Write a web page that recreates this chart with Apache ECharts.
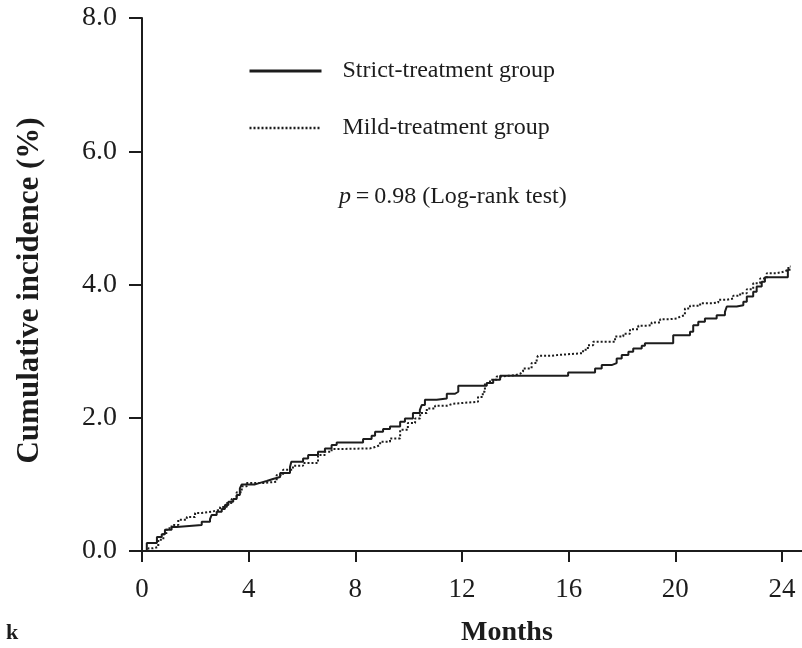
<!DOCTYPE html>
<html>
<head>
<meta charset="utf-8">
<script src="https://cdn.jsdelivr.net/npm/echarts@6/dist/echarts.min.js"></script>
<style>
html,body{margin:0;padding:0;background:#fff;}
#chart{width:802px;height:648px;}
</style>
</head>
<body>
<div id="chart"></div>
<script>
// ---- data ----
const xTicks = [0, 4, 8, 12, 16, 20, 24];
const yTicks = [0, 2, 4, 6, 8];
const seriesNames = ['Strict-treatment group', 'Mild-treatment group'];

const strictT = [0, 0.18, 0.56, 0.74, 0.86, 1.11, 1.30, 2.24, 2.55, 2.61, 2.80, 2.99, 3.11, 3.24, 3.42, 3.55, 3.67, 3.74,
  4.24, 4.49, 4.68, 4.91, 5.18, 5.55, 5.60, 6.04, 6.23, 6.60, 6.86, 7.11, 7.30, 8.29, 8.61, 8.74, 9.04, 9.30, 9.68, 9.86,
  10.16, 10.42, 10.49, 10.61, 11.05, 11.43, 11.74, 11.86, 12.93, 13.17, 13.43, 15.98, 16.99, 17.24, 17.61, 17.80, 17.99,
  18.24, 18.42, 18.74, 18.86, 19.92, 20.55, 20.67, 20.86, 21.11, 21.55, 21.86, 21.93, 22.30, 22.55, 22.68, 22.92, 23.05,
  23.24, 23.36, 24.22, 24.32];
const strictV = [0, 0.12, 0.21, 0.25, 0.32, 0.36, 0.39, 0.44, 0.48, 0.54, 0.59, 0.63, 0.69, 0.74, 0.78, 0.84, 0.94, 1.00,
  1.03, 1.05, 1.08, 1.11, 1.17, 1.26, 1.34, 1.39, 1.44, 1.49, 1.54, 1.59, 1.63, 1.68, 1.73, 1.79, 1.83, 1.87, 1.94, 1.99,
  2.07, 2.12, 2.19, 2.27, 2.29, 2.36, 2.39, 2.48, 2.52, 2.57, 2.63, 2.68, 2.74, 2.79, 2.82, 2.89, 2.94,
  2.99, 3.04, 3.08, 3.12, 3.24, 3.29, 3.39, 3.44, 3.49, 3.54, 3.59, 3.67, 3.69, 3.74, 3.82, 3.89, 3.97,
  4.04, 4.11, 4.22, 4.22];

const mildT = [0, 0.24, 0.42, 0.61, 0.80, 0.93, 1.11, 1.36, 1.68, 1.99, 2.24, 2.61, 2.93, 3.18, 3.36, 3.55, 3.74, 3.93,
  4.55, 5.05, 5.29, 5.66, 6.04, 6.60, 6.86, 7.11, 7.30, 8.55, 8.74, 8.93, 9.30, 9.68, 9.97, 10.24, 10.43, 10.68, 10.99,
  11.43, 11.66, 12.60, 12.78, 12.86, 13.05, 13.30, 13.49, 13.99, 14.18, 14.29, 14.61, 14.80, 14.85, 15.36, 15.55, 16.54,
  16.72, 16.92, 17.74, 18.05, 18.30, 18.61, 18.93, 19.11, 19.43, 19.80, 20.05, 20.18, 20.36, 20.55, 20.93, 21.42, 21.61,
  21.93, 22.17, 22.43, 22.68, 22.92, 23.18, 23.43, 23.80, 24.05, 24.24, 24.32];
const mildV = [0, 0.04, 0.06, 0.17, 0.27, 0.34, 0.39, 0.47, 0.51, 0.57, 0.59, 0.62, 0.66, 0.72, 0.78, 0.88, 0.97, 1.02,
  1.04, 1.14, 1.22, 1.28, 1.32, 1.44, 1.49, 1.53, 1.54, 1.56, 1.59, 1.64, 1.69, 1.82, 1.92, 1.99, 2.07, 2.14, 2.18,
  2.21, 2.24, 2.31, 2.39, 2.52, 2.57, 2.62, 2.64, 2.66, 2.69, 2.74, 2.82, 2.89, 2.93, 2.94, 2.97, 3.02,
  3.09, 3.14, 3.22, 3.26, 3.33, 3.38, 3.39, 3.43, 3.48, 3.49, 3.52, 3.54, 3.64, 3.68, 3.72, 3.73, 3.77,
  3.79, 3.83, 3.87, 3.93, 4.02, 4.09, 4.17, 4.19, 4.22, 4.27, 4.27];

const zip = (t, v) => t.map((x, i) => [x, v[i]]);

const FONT = '"Liberation Serif", "Times New Roman", serif';
const INK = '#1c1c1c';

const chart = echarts.init(document.getElementById('chart'), null, {renderer: 'canvas'});
chart.setOption({
  backgroundColor: '#ffffff',
  animation: false,
  grid: {left: 142, right: 0, top: 18, bottom: 97, containLabel: false},
  legend: {
    orient: 'vertical',
    left: 248,
    top: 59,
    padding: 0,
    itemWidth: 72,
    itemHeight: 28,
    itemGap: 33,
    selectedMode: false,
    itemStyle: {opacity: 0},
    textStyle: {fontFamily: FONT, fontSize: 24, color: INK, padding: [0, 0, 0, 16]},
    data: [
      {name: seriesNames[0], lineStyle: {width: 3}, itemStyle: {opacity: 0}},
      {name: seriesNames[1], lineStyle: {width: 2.5}, itemStyle: {opacity: 0}}
    ]
  },
  xAxis: {
    type: 'value',
    min: 0,
    max: 24.75,
    interval: 4,
    splitLine: {show: false},
    axisLine: {show: true, onZero: false, lineStyle: {color: INK, width: 2}},
    axisTick: {show: true, length: 11, lineStyle: {color: INK, width: 2}, customValues: xTicks},
    axisLabel: {fontFamily: FONT, fontSize: 27, color: INK, margin: 25, customValues: xTicks,
      formatter: v => String(v)}
  },
  yAxis: {
    type: 'value',
    min: 0,
    max: 8,
    interval: 2,
    splitLine: {show: false},
    axisLine: {show: true, onZero: false, lineStyle: {color: INK, width: 2}},
    axisTick: {show: true, length: 13, lineStyle: {color: INK, width: 2}, customValues: yTicks},
    axisLabel: {fontFamily: FONT, fontSize: 28, color: INK, margin: 25, customValues: yTicks,
      formatter: v => v.toFixed(1)},
    name: 'Cumulative incidence (%)',
    nameLocation: 'middle',
    nameRotate: 90,
    nameGap: 97,
    nameTextStyle: {fontFamily: FONT, fontSize: 31, fontWeight: 'bold', color: INK, padding: [0, 12, 0, 0]}
  },
  graphic: [
    {type: 'text', left: 461, top: 619,
      style: {text: 'Months', font: 'bold 28px ' + FONT, fill: INK}},
    {type: 'text', left: 339, top: 185,
      style: {text: '{i|p}\u2009=\u20090.98 (Log-rank test)', font: '24px ' + FONT, fill: INK,
        rich: {i: {fontStyle: 'italic', fontFamily: FONT, fontSize: 24, fill: INK}}}},
    {type: 'text', left: 6, top: 622,
      style: {text: 'k', font: 'bold 22px ' + FONT, fill: INK}}
  ],
  series: [
    {
      name: seriesNames[0], type: 'line', step: 'end', symbol: 'none',
      lineStyle: {color: INK, width: 2, type: 'solid'},
      itemStyle: {color: INK},
      data: zip(strictT, strictV)
    },
    {
      name: seriesNames[1], type: 'line', step: 'end', symbol: 'none',
      lineStyle: {color: INK, width: 2, type: [2, 2]},
      itemStyle: {color: INK},
      data: zip(mildT, mildV)
    }
  ]
});
</script>
</body>
</html>
